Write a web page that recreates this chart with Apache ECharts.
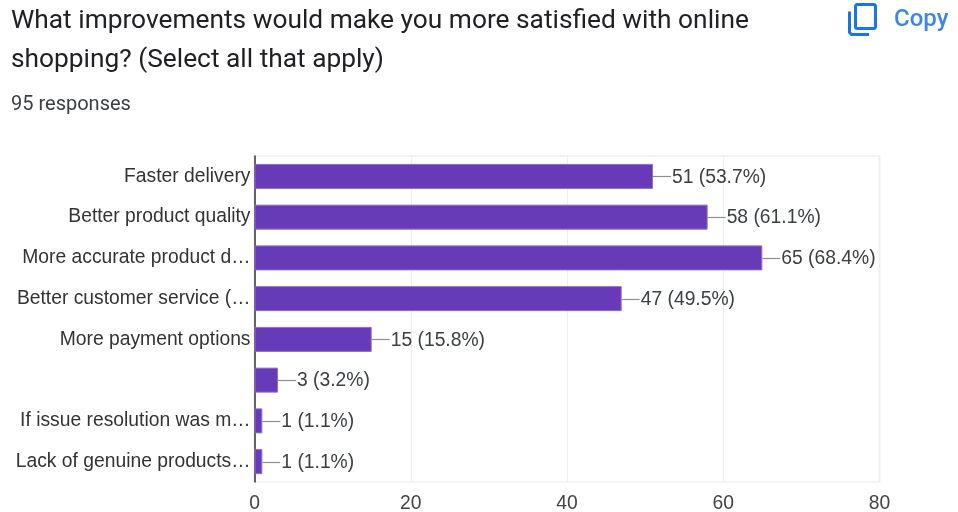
<!DOCTYPE html>
<html>
<head>
<meta charset="utf-8">
<style>html,body{margin:0;padding:0;background:#fff}#chart{width:958px;height:512px}</style>
<script src="https://cdn.jsdelivr.net/npm/echarts@6/dist/echarts.min.js"></script>
</head>
<body>
<div id="chart"></div>
<script>
// Survey question, response count and answer options
const titleLines = ['What improvements would make you more satisfied with online', 'shopping? (Select all that apply)'];
const responseText = '95 responses';
const categories = ['Faster delivery', 'Better product quality', 'More accurate product d…', 'Better customer service (…', 'More payment options', '', 'If issue resolution was m…', 'Lack of genuine products…'];
const counts = [51, 58, 65, 47, 15, 3, 1, 1];
const percents = ['53.7', '61.1', '68.4', '49.5', '15.8', '3.2', '1.1', '1.1'];

const LABEL_FONT = '"Liberation Sans", Arial, sans-serif';
const LABEL_SIZE = 19.3;
const LEADER = 18;

const chart = echarts.init(document.getElementById('chart'), null, {renderer: 'canvas'});
chart.setOption({
  animation: false,
  backgroundColor: '#ffffff',
  grid: {left: 254.5, right: 78.5, top: 156, bottom: 30, outerBoundsMode: 'none', show: true, backgroundColor: 'transparent', borderColor: '#f4f4f4', borderWidth: 2},
  xAxis: {
    type: 'value', min: 0, max: 80, interval: 20, position: 'bottom',
    axisLine: {show: false}, axisTick: {show: false},
    splitLine: {lineStyle: {color: '#eeeeee', width: 1}},
    axisLabel: {color: '#444444', fontFamily: LABEL_FONT, fontSize: LABEL_SIZE, margin: 12}
  },
  yAxis: {
    type: 'category', inverse: true, data: categories,
    axisLine: {lineStyle: {color: '#333333', width: 1.5}},
    axisTick: {show: false},
    axisLabel: {color: '#333333', fontFamily: LABEL_FONT, fontSize: LABEL_SIZE, margin: 4, interval: 0, padding: [2, 0, 0, 0]}
  },
  series: [
    {
      type: 'bar', data: counts, barWidth: 25, z: 3,
      itemStyle: {color: '#673ab7', borderColor: '#8e6cc9', borderWidth: 1}
    },
    {
      // Leader line and value text to the right of each bar
      type: 'custom', z: 4, silent: true,
      data: counts.map((v, i) => [v, i]),
      encode: {x: 0, y: 1},
      renderItem(params, api) {
        const p = api.coord([api.value(0), api.value(1)]);
        const i = params.dataIndex;
        const y = Math.round(p[1]) + 0.5;
        return {type: 'group', children: [
          {type: 'line', shape: {x1: p[0], y1: y, x2: p[0] + LEADER, y2: y},
           style: {stroke: '#8f8f8f', lineWidth: 1.2}},
          {type: 'text', style: {x: p[0] + LEADER + 1, y: p[1] + 1, text: counts[i] + ' (' + percents[i] + '%)',
           fill: '#3c4043', font: LABEL_SIZE + 'px ' + LABEL_FONT, textVerticalAlign: 'middle', textAlign: 'left'}}
        ]};
      }
    }
  ],
  graphic: [
    {type: 'text', left: 11, top: 8, style: {text: titleLines[0], fill: '#202124', font: '400 26.3px Roboto'}},
    {type: 'text', left: 11, top: 47, style: {text: titleLines[1], fill: '#202124', font: '400 26.3px Roboto'}},
    {type: 'text', left: 11, top: 95, style: {text: responseText, fill: '#3c4043', font: '400 20px Roboto'}},
    // Copy icon
    {type: 'rect', left: 853, top: 2, shape: {width: 20, height: 24, r: 2},
     style: {fill: 'none', stroke: '#1a73e8', lineWidth: 3}},
    {type: 'polyline', left: 847, top: 9, shape: {points: [[1.5, 0], [1.5, 21], [3.5, 23], [21, 23]]},
     style: {fill: 'none', stroke: '#1a73e8', lineWidth: 3}},
    {type: 'text', left: 894, top: 8, style: {text: 'Copy', fill: '#3f86ec', font: '500 24px Roboto'}}
  ]
});
</script>
</body>
</html>
